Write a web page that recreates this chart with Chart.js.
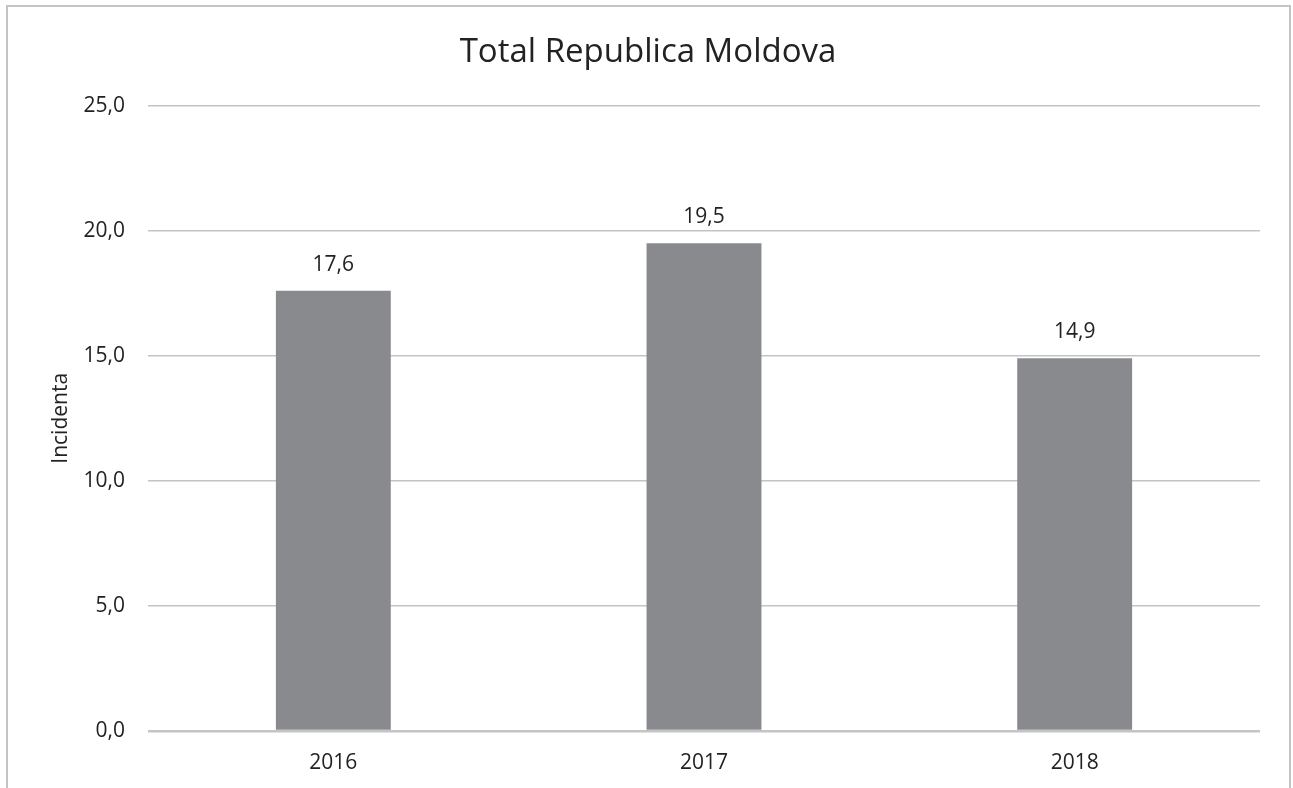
<!DOCTYPE html>
<html>
<head>
<meta charset="utf-8">
<script src="https://cdn.jsdelivr.net/npm/chart.js@4"></script>
<style>
  body { margin: 0; background: #fff; }
  #wrap { position: relative; width: 1293px; height: 788px; overflow: hidden; }
  #frame { position: absolute; left: 6px; top: 5px; width: 1281px; height: 820px;
           border: 2px solid #c4c4c4; pointer-events: none; }
  canvas { position: absolute; left: 0; top: 0; }
</style>
</head>
<body>
<div id="wrap">
  <canvas id="barChart" width="1293" height="788"></canvas>
  <div id="frame"></div>
</div>
<script>
// datos del gráfico
const anios = ['2016', '2017', '2018'];
const incidenta = [17.6, 19.5, 14.9];
const titulo = 'Total Republica Moldova';
const tituloEje = 'Incidenta';

const fuente = "'Open Sans', sans-serif";
const fmt = v => v.toFixed(1).replace('.', ',');

// etiquetas encima de las barras
const etiquetas = {
  id: 'etiquetas',
  afterDatasetsDraw(chart) {
    const ctx = chart.ctx;
    const meta = chart.getDatasetMeta(0);
    ctx.save();
    ctx.font = '21px ' + fuente;
    ctx.fillStyle = '#222';
    ctx.textAlign = 'center';
    ctx.textBaseline = 'middle';
    meta.data.forEach((bar, i) => {
      ctx.fillText(fmt(incidenta[i]), bar.x, bar.y - 26);
    });
    ctx.restore();
  }
};

var ctx = document.getElementById('barChart').getContext('2d');

let barChart = new Chart(ctx, {
  type: 'bar',
  data: {
    labels: anios,
    datasets: [{
      data: incidenta,
      backgroundColor: '#898a8e',
      categoryPercentage: 1,
      barPercentage: 0.31
    }]
  },
  options: {
    responsive: false,
    animation: false,
    layout: { padding: { left: 36, right: 33, top: 11, bottom: 0 } },
    plugins: {
      legend: { display: false },
      tooltip: { enabled: false },
      title: {
        display: true,
        text: titulo,
        color: '#222',
        font: { family: fuente, size: 33, weight: 'normal' },
        padding: { top: 22, bottom: 33 }
      }
    },
    scales: {
      x: {
        afterFit: s => { s.height = 57; },
        grid: { display: false, drawTicks: false },
        border: { display: false },
        ticks: { color: '#222', padding: 19, font: { family: fuente, size: 21 } }
      },
      y: {
        min: 0,
        max: 25,
        afterFit: s => { s.width = 112; },
        border: { display: false },
        grid: {
          drawTicks: false,
          color: '#c4c4c4',
          lineWidth: c => (c.tick && c.tick.value === 0 ? 2.5 : 1.5)
        },
        ticks: {
          stepSize: 5,
          padding: 23,
          color: '#222',
          font: { family: fuente, size: 21 },
          callback: v => fmt(v)
        },
        title: {
          display: true,
          text: tituloEje,
          color: '#222',
          font: { family: fuente, size: 21 },
          padding: { top: 12, bottom: 0 }
        }
      }
    }
  },
  plugins: [etiquetas]
});
</script>
</body>
</html>
